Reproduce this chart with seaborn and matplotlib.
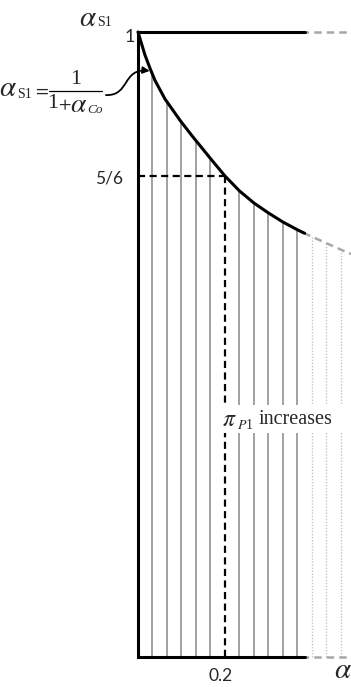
import numpy as np
import pandas as pd
import seaborn as sns
import matplotlib
matplotlib.use("Agg")
import matplotlib.pyplot as plt
from matplotlib.patches import FancyArrowPatch, Rectangle
from matplotlib.path import Path

# ---- data (schematic curve alpha_S1 vs alpha) ----
alpha_solid = [0.0, 0.016, 0.028, 0.039, 0.062, 0.097, 0.124, 5/30, 6/30, 7/30, 8/30, 9/30, 10/30, 11/30, 0.383]
as1_solid   = [1.0, 0.9734, 0.9575, 0.944, 0.9225, 0.8975, 0.8800, 0.8535, 5/6, 0.8160, 0.8020, 0.7905, 0.7800, 0.7710, 0.7670]
alpha_ext = [0.383, 12/30, 13/30, 14/30, 0.49]
as1_ext   = [0.7670, 0.763, 0.7555, 0.748, 0.743]
hatch_alpha = [1/30, 2/30, 3/30, 4/30, 5/30, 7/30, 8/30, 9/30, 10/30, 11/30]
hatch_top   = [0.9508, 0.9192, 0.8955, 0.874, 0.8535, 0.816, 0.802, 0.7905, 0.780, 0.771]
dot_alpha = [12/30, 13/30, 14/30]
dot_top   = [0.763, 0.7555, 0.748]
alpha_mark = 0.2
as1_mark = 5/6
y_floor = 0.2766
alpha_end = 0.383
alpha_far = 0.49

sns.set_style("white")
plt.rcParams["mathtext.fontset"] = "stix"

W, H = 351, 687
fig = plt.figure(figsize=(W / 100, H / 100), dpi=100)
ax = fig.add_axes([0, 0, 1, 1])

def P(x, y):
    """pixel position (from top-left) -> axes fraction, for text placement"""
    return x / W, 1 - y / H

# hatch lines
ax.vlines(hatch_alpha, y_floor, hatch_top, color="#9a9a9a", lw=1.3, zorder=1)
ax.vlines(dot_alpha, y_floor, dot_top, color="#c4c4c4", lw=1.0, linestyles=(0, (1, 1.2)), zorder=1)

# curve
df_solid = pd.DataFrame({"alpha": alpha_solid, "as1": as1_solid})
df_ext = pd.DataFrame({"alpha": alpha_ext, "as1": as1_ext})
sns.lineplot(data=df_solid, x="alpha", y="as1", ax=ax, color="black", lw=2.2,
             sort=False, estimator=None, zorder=4)
sns.lineplot(data=df_ext, x="alpha", y="as1", ax=ax, color="#a8a8a8", lw=1.8,
             sort=False, estimator=None, zorder=3, linestyle=(0.5, (3, 2)))

ax.set_xlim(-0.3172, 0.4897)
ax.set_ylim(0.2419, 1.0370)
ax.axis("off")

# axes-like frame lines
ax.plot([0, 0], [y_floor, 1.0], color="black", lw=2.2, solid_capstyle="projecting", zorder=5)
ax.plot([0, alpha_end], [1.0, 1.0], color="black", lw=2.2, zorder=5)
ax.plot([0, alpha_end], [y_floor, y_floor], color="black", lw=2.2, zorder=5)
ax.plot([alpha_end, alpha_far], [1.0, 1.0], color="#a8a8a8", lw=1.8, linestyle=(1.5, (3, 2)), zorder=3)
ax.plot([alpha_end, alpha_far], [y_floor, y_floor], color="#a8a8a8", lw=1.8, linestyle=(1.5, (3, 2)), zorder=3)

# 5/6 marker dashed lines
ax.plot([0, alpha_mark], [as1_mark, as1_mark], color="black", lw=1.6, linestyle=(0, (3.2, 2)), zorder=4)
ax.plot([alpha_mark, alpha_mark], [as1_mark, y_floor], color="black", lw=1.6, linestyle=(0, (3.2, 2)), zorder=4)

serif = "Liberation Serif"
sans = "Lato"
tA = ax.transAxes

# axis title alpha_S1
ax.text(*P(88, 18), r"$\alpha$", fontsize=21, ha="center", va="center", transform=tA)
ax.text(*P(105, 23), "S1", fontsize=10, family=serif, ha="center", va="center", transform=tA)

# tick-like labels
ax.text(*P(135, 37), "1", fontsize=13, family=sans, ha="right", va="center", transform=tA)
ax.text(*P(123, 179), "5/6", fontsize=12.5, family=sans, ha="right", va="center", transform=tA)
ax.text(*P(221, 676), "0.2", fontsize=12.5, family=sans, ha="center", va="center", transform=tA)
ax.text(*P(343, 670), r"$\alpha$", fontsize=21, ha="center", va="center", transform=tA)

# formula alpha_S1 = 1 / (1 + alpha_Co)
ax.text(*P(8, 88), r"$\alpha$", fontsize=21, ha="center", va="center", transform=tA)
ax.text(*P(24, 94), "S1", fontsize=10, family=serif, ha="center", va="center", transform=tA)
ax.text(*P(41, 90), r"$=$", fontsize=13.5, ha="center", va="center", transform=tA)
ax.plot([49 / W, 102 / W], [1 - 91 / H, 1 - 91 / H], color="black", lw=0.9, transform=tA)
ax.text(*P(76, 79), "1", fontsize=16, family=serif, ha="center", va="center", transform=tA)
ax.text(*P(53, 104), "1", fontsize=16, family=serif, ha="center", va="center", transform=tA)
ax.text(*P(65, 104), r"$+$", fontsize=13, ha="center", va="center", transform=tA)
ax.text(*P(79, 104), r"$\alpha$", fontsize=20, ha="center", va="center", transform=tA)
ax.text(*P(95, 110), "Co", fontsize=9.5, family=serif, style="italic", ha="center", va="center", transform=tA)

# pi_P1 increases label on white patch
ax.add_patch(Rectangle(P(215, 433), 130 / W, 28 / H, transform=tA, facecolor="white",
                       edgecolor="none", zorder=6))
ax.text(*P(229, 419), r"$\pi$", fontsize=17, ha="center", va="center", transform=tA, zorder=7)
ax.text(*P(245, 425), r"$P$1", fontsize=10, family=serif, ha="center", va="center", transform=tA, zorder=7)
ax.text(*P(295, 419), "increases", fontsize=14.5, family=serif, ha="center", va="center", transform=tA, zorder=7)

# arrow from formula to curve
verts = [(-0.0736, 0.927), (-0.0184, 0.9258), (-0.0368, 0.9583), (0.027, 0.955)]
arrow = FancyArrowPatch(path=Path(verts, [Path.MOVETO, Path.CURVE4, Path.CURVE4, Path.CURVE4]),
                        arrowstyle="-|>", mutation_scale=10, lw=1.3, color="black", zorder=6)
ax.add_patch(arrow)

fig.savefig("out.png", dpi=100)
